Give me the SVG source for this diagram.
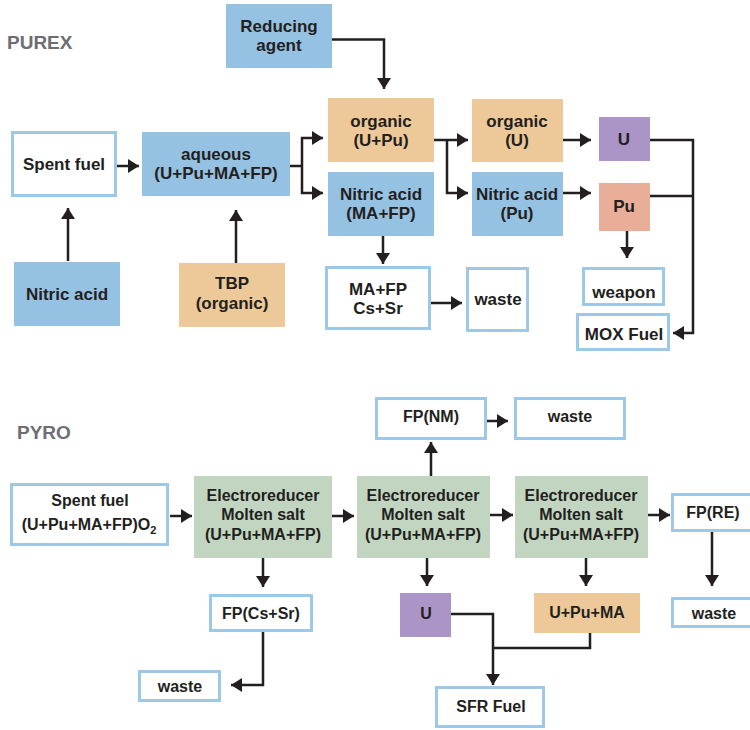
<svg xmlns="http://www.w3.org/2000/svg" width="750" height="730" viewBox="0 0 750 730">
<defs>
<marker id="ah" markerUnits="userSpaceOnUse" markerWidth="12" markerHeight="14" refX="11" refY="7" orient="auto">
<path d="M0,0 L11,7 L0,14 z" fill="#231f20"/>
</marker>
<style>
.t{font-family:"Liberation Sans",Arial,sans-serif;font-weight:bold;fill:#231f20;text-anchor:middle}
.p{font-size:17px}
.y{font-size:16px}
.h{font-family:"Liberation Sans",Arial,sans-serif;font-weight:bold;font-size:19px;fill:#6d6e71}
.blue{fill:#95c1e2}
.org{fill:#edc999}
.pur{fill:#ab94c6}
.sal{fill:#e8ae98}
.grn{fill:#c2d5c1}
.wb{fill:#fff;stroke:#9dc8e8;stroke-width:3}
.c{fill:none;stroke:#231f20;stroke-width:2.5}
.a{marker-end:url(#ah)}
</style>
</defs>
<rect width="750" height="730" fill="#fff"/>
<text class="h" x="7" y="49">PUREX</text>
<text class="h" x="17" y="439">PYRO</text>

<g id="connectors">
<!-- PUREX -->
<path class="c a" d="M332,39.5 H384 V89"/>
<path class="c a" d="M117,166 H139"/>
<path class="c" d="M290,166 H302"/>
<path class="c a" d="M302,166 V138 H323"/>
<path class="c a" d="M302,166 V193 H323"/>
<path class="c a" d="M68,261 V208"/>
<path class="c a" d="M236,263 V210"/>
<path class="c a" d="M383,236 V264"/>
<path class="c a" d="M431,303 H462"/>
<path class="c a" d="M434,140 H468"/>
<path class="c a" d="M447,140 V193 H468"/>
<path class="c a" d="M563,140 H591"/>
<path class="c a" d="M563,193 H591"/>
<path class="c a" d="M650,140 H693 V333 H673"/>
<path class="c" d="M650,196 H693"/>
<path class="c a" d="M627,231 V258"/>
<!-- PYRO -->
<path class="c a" d="M170,516 H192"/>
<path class="c a" d="M332,516 H354"/>
<path class="c a" d="M490,515 H513"/>
<path class="c a" d="M648,515 H670"/>
<path class="c a" d="M263,558 V587"/>
<path class="c a" d="M263,632 V685 H231"/>
<path class="c a" d="M431,476 V442"/>
<path class="c a" d="M487,421 H508"/>
<path class="c a" d="M712,532 V586"/>
<path class="c a" d="M427,558 V586"/>
<path class="c a" d="M586,558 V586"/>
<path class="c a" d="M451,614 H493 V685"/>
<path class="c" d="M590,633 V648 H493"/>
</g>

<!-- PUREX nodes -->
<g id="reducing-agent"><rect class="blue" x="226" y="4" width="106" height="64"/>
<text class="t p" x="279" y="32">Reducing</text><text class="t p" x="279" y="51">agent</text></g>

<g id="spent-fuel"><rect class="wb" x="12.5" y="132.5" width="103" height="63"/>
<text class="t p" x="64" y="170">Spent fuel</text></g>

<g id="aqueous"><rect class="blue" x="142" y="132" width="148" height="64"/>
<text class="t p" x="216" y="160">aqueous</text><text class="t p" x="216" y="179">(U+Pu+MA+FP)</text></g>

<g id="nitric-acid"><rect class="blue" x="14" y="262" width="106" height="64"/>
<text class="t p" x="67" y="300">Nitric acid</text></g>

<g id="tbp"><rect class="org" x="179" y="263" width="106" height="64"/>
<text class="t p" x="232" y="289">TBP</text><text class="t p" x="232" y="309">(organic)</text></g>

<g id="organic-upu"><rect class="org" x="328" y="98" width="106" height="64"/>
<text class="t p" x="381" y="127">organic</text><text class="t p" x="381" y="146">(U+Pu)</text></g>

<g id="nitric-mafp"><rect class="blue" x="328" y="172" width="106" height="64"/>
<text class="t p" x="381" y="200">Nitric acid</text><text class="t p" x="381" y="219">(MA+FP)</text></g>

<g id="mafp-cssr"><rect class="wb" x="326.5" y="267.5" width="103" height="61"/>
<text class="t p" x="378" y="295">MA+FP</text><text class="t p" x="378" y="314">Cs+Sr</text></g>

<g id="waste-purex"><rect class="wb" x="467.5" y="268.5" width="60" height="62"/>
<text class="t p" x="498" y="305">waste</text></g>

<g id="organic-u"><rect class="org" x="472" y="99" width="91" height="63"/>
<text class="t p" x="517" y="127">organic</text><text class="t p" x="517" y="146">(U)</text></g>

<g id="nitric-pu"><rect class="blue" x="472" y="172" width="91" height="64"/>
<text class="t p" x="517" y="200">Nitric acid</text><text class="t p" x="517" y="219">(Pu)</text></g>

<g id="u-purex"><rect class="pur" x="599" y="117" width="51" height="44"/>
<text class="t p" x="624" y="145">U</text></g>

<g id="pu"><rect class="sal" x="599" y="183" width="51" height="48"/>
<text class="t p" x="624" y="212">Pu</text></g>

<g id="weapon"><rect class="wb" x="583.5" y="268.5" width="80" height="36"/>
<text class="t p" x="624" y="298">weapon</text></g>

<g id="mox"><rect class="wb" x="577.5" y="314.5" width="91" height="35"/>
<text class="t p" x="624" y="340">MOX Fuel</text></g>

<!-- PYRO nodes -->
<g id="spent-fuel-pyro"><rect class="wb" x="11.5" y="484.5" width="156" height="60"/>
<text class="t y" x="90" y="506">Spent fuel</text>
<text class="t y" x="89" y="530">(U+Pu+MA+FP)O<tspan font-size="11" dy="4">2</tspan></text></g>

<g id="er1"><rect class="grn" x="194" y="476" width="138" height="82"/>
<text class="t y" x="263" y="501">Electroreducer</text><text class="t y" x="263" y="520">Molten salt</text><text class="t y" x="263" y="540">(U+Pu+MA+FP)</text></g>

<g id="er2"><rect class="grn" x="357" y="476" width="133" height="82"/>
<text class="t y" x="423" y="501">Electroreducer</text><text class="t y" x="423" y="520">Molten salt</text><text class="t y" x="423" y="540">(U+Pu+MA+FP)</text></g>

<g id="er3"><rect class="grn" x="515" y="476" width="133" height="82"/>
<text class="t y" x="581" y="501">Electroreducer</text><text class="t y" x="581" y="520">Molten salt</text><text class="t y" x="581" y="540">(U+Pu+MA+FP)</text></g>

<g id="fp-cssr"><rect class="wb" x="210.5" y="595.5" width="101" height="35"/>
<text class="t y" x="261" y="619">FP(Cs+Sr)</text></g>

<g id="waste-cssr"><rect class="wb" x="139.5" y="671.5" width="80" height="29"/>
<text class="t y" x="180" y="692">waste</text></g>

<g id="fp-nm"><rect class="wb" x="376.5" y="398.5" width="109" height="40"/>
<text class="t y" x="431" y="422">FP(NM)</text></g>

<g id="waste-nm"><rect class="wb" x="515.5" y="398.5" width="109" height="40"/>
<text class="t y" x="570" y="422">waste</text></g>

<g id="fp-re"><rect class="wb" x="672.5" y="494.5" width="82" height="36"/>
<text class="t y" x="713" y="518">FP(RE)</text></g>

<g id="waste-re"><rect class="wb" x="672.5" y="598.5" width="82" height="28"/>
<text class="t y" x="714" y="619">waste</text></g>

<g id="u-pyro"><rect class="pur" x="400" y="593" width="51" height="44"/>
<text class="t y" x="426" y="619">U</text></g>

<g id="upuma"><rect class="org" x="534" y="593" width="106" height="40"/>
<text class="t y" x="587" y="618">U+Pu+MA</text></g>

<g id="sfr"><rect class="wb" x="436.5" y="687.5" width="107" height="39"/>
<text class="t y" x="491" y="712">SFR Fuel</text></g>
</svg>
